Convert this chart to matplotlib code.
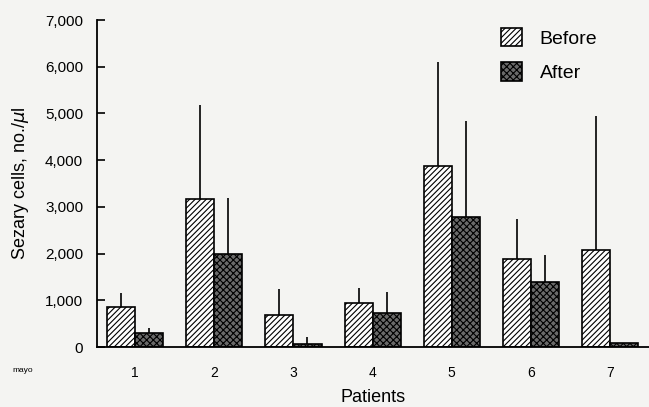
import matplotlib
matplotlib.use('Agg')
import matplotlib.pyplot as plt
import numpy as np

# Sezary cell counts per patient, before and after leukapheresis
patients = ['1', '2', '3', '4', '5', '6', '7']
before = [860, 3170, 690, 940, 3880, 1880, 2080]
before_err = [300, 2010, 550, 320, 2220, 860, 2870]
after = [300, 2000, 65, 720, 2780, 1390, 90]
after_err = [100, 1200, 145, 450, 2060, 580, 0]
yticks = [0, 1000, 2000, 3000, 4000, 5000, 6000, 7000]

plt.rcParams['font.family'] = ['Liberation Sans', 'DejaVu Sans']
plt.rcParams['hatch.linewidth'] = 0.8

fig = plt.figure(figsize=(6.49, 4.07), dpi=100)
fig.patch.set_facecolor('#f4f4f2')
ax = fig.add_axes([0.1495, 0.1474, 0.8505, 0.8034])
ax.set_facecolor('none')

x = np.arange(1, len(patients) + 1)
w = 0.355

ax.bar(x - w/2, before, w, facecolor='white', edgecolor='black', hatch='//////',
       linewidth=1.2, label='Before', zorder=2)
ax.bar(x + w/2, after, w, facecolor='#6a6a6a', edgecolor='black', hatch='xxxxx',
       linewidth=1.2, label='After', zorder=2)
ax.errorbar(x - w/2, before, yerr=[np.zeros(7), before_err], fmt='none',
            ecolor='black', elinewidth=1.2, capsize=0, zorder=1)
ax.errorbar(x + w/2, after, yerr=[np.zeros(7), after_err], fmt='none',
            ecolor='black', elinewidth=1.2, capsize=0, zorder=1)

ax.set_xlim(0.52, 7.49)
ax.set_ylim(0, 7000)
ax.set_yticks(yticks)
ax.set_yticklabels(['{:,}'.format(v) for v in yticks], fontsize=11)
ax.tick_params(axis='y', direction='in', length=6, width=1.2, pad=10)
ax.set_xticks(x)
ax.set_xticklabels(patients, fontsize=10)
ax.tick_params(axis='x', length=0, pad=14)

for s in ['top', 'right']:
    ax.spines[s].set_visible(False)
ax.spines['left'].set_linewidth(1.3)
ax.spines['bottom'].set_linewidth(1.3)

ax.set_xlabel('Patients', fontsize=13, labelpad=6)
ax.set_ylabel('Sezary cells, no./$\\mu$l', fontsize=13, labelpad=10)

leg = ax.legend(loc='upper left', bbox_to_anchor=(0.70, 1.03), frameon=False,
                fontsize=14, handlelength=1.1, handleheight=1.1,
                handletextpad=0.9, labelspacing=0.75)

fig.text(0.035, 0.085, 'mayo', fontsize=6, ha='center')

fig.savefig('out.png', dpi=100, facecolor=fig.get_facecolor())
